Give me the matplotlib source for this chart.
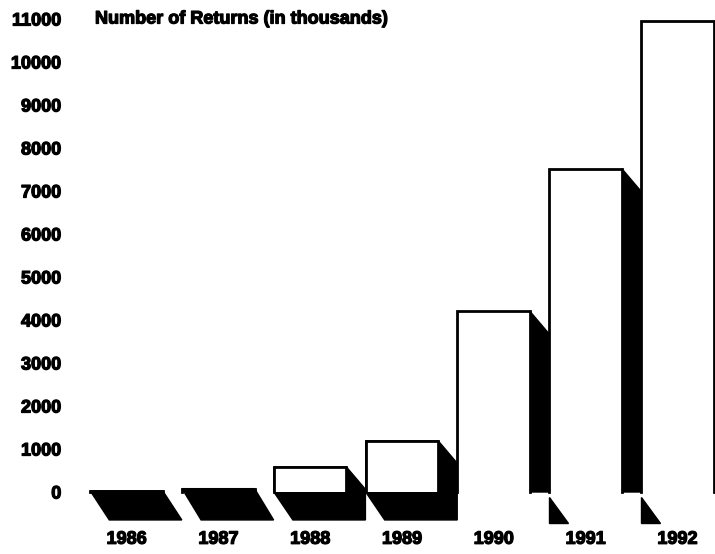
import matplotlib.pyplot as plt
import matplotlib.patheffects as pe
import numpy as np
from matplotlib.patches import Polygon

# Number of returns (in thousands) per filing year
years = ['1986', '1987', '1988', '1989', '1990', '1991', '1992']
returns = [25, 78, 583, 1190, 4200, 7520, 10950]
y_ticks = list(range(0, 11001, 1000))

plt.rcParams['font.family'] = ['Liberation Sans', 'DejaVu Sans']

fig = plt.figure(figsize=(7.15, 5.54), dpi=100)
ax = fig.add_axes([70 / 715, 26 / 554, 645 / 715, 528 / 554])

x = np.arange(len(years))
width = 0.79
dx = 0.207        # depth offset (category units)
side_drop = 520   # slope of the side face (data units)
depth = 650       # depth of the bottom face (data units)

# black 3d faces
for i, (xi, v) in enumerate(zip(x, returns)):
    xl, xr = xi - width / 2, xi + width / 2
    if v < 200:
        # tiny bars: only the slanted slab is visible
        pts = [(xl, v), (xr, v), (xr + dx, -depth), (xl + dx, -depth)]
        ax.add_patch(Polygon(pts, closed=True, facecolor='black',
                             edgecolor='black', lw=1, zorder=5))
    elif i < 4:
        pts = [(xl, v), (xr, v), (xr + dx, v - side_drop), (xr + dx, -depth),
               (xl + dx, -depth), (xl, 0)]
        ax.add_patch(Polygon(pts, closed=True, facecolor='black',
                             edgecolor='black', lw=1, zorder=2))
    else:
        side = [(xr, v), (xr + dx, v - side_drop), (xr + dx, 0), (xr, 0)]
        tri = [(xr + dx, -115), (xr + dx, -720), (xr + 2 * dx, -720)]
        for pts in (side, tri):
            ax.add_patch(Polygon(pts, closed=True, facecolor='black',
                                 edgecolor='black', lw=1, zorder=2))

# white front faces
ax.bar(x, returns, width, color='white', edgecolor='none', zorder=3)
for xi, v in zip(x, returns):
    xl, xr = xi - width / 2, xi + width / 2
    ax.plot([xl, xl, xr, xr], [0, v, v, 0], color='black', lw=2,
            solid_joinstyle='miter', zorder=4)

ax.set_xlim(-0.616, 6.41)
ax.set_ylim(-837, 11442)
ax.set_yticks(y_ticks)
ax.set_yticklabels([str(t) for t in y_ticks], fontsize=13, fontweight='bold')
ax.set_xticks(x)
ax.set_xticklabels(years, fontsize=13, fontweight='bold')
ax.tick_params(axis='y', length=0, pad=6.2)
ax.tick_params(axis='x', length=0, pad=2)
for s in ax.spines.values():
    s.set_visible(False)

heavy = [pe.withStroke(linewidth=0.9, foreground='black')]
for lbl in ax.get_xticklabels() + ax.get_yticklabels():
    lbl.set_path_effects(heavy)

fig.text(95 / 715, 1 - 19 / 554, 'Number of Returns (in thousands)',
         fontsize=13, fontweight='bold', ha='left', va='center',
         path_effects=heavy)

fig.savefig('out.png', dpi=100)
